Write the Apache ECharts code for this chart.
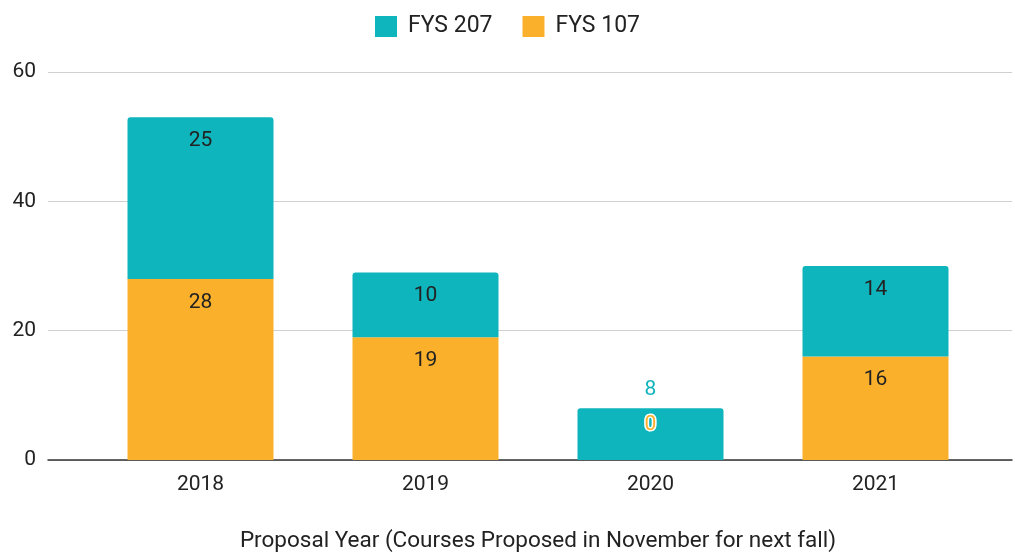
<!DOCTYPE html>
<html>
<head>
<meta charset="utf-8">
<script src="https://cdn.jsdelivr.net/npm/echarts@6/dist/echarts.min.js"></script>
<style>
	html, body { margin: 0; padding: 0; background: #fff; }
	#chart { width: 1015px; height: 552px; }
</style>
</head>
<body>
<div id="chart"></div>
<script>
//Chart data
let years = ['2018', '2019', '2020', '2021'];
let fys107 = [28, 19, 0, 16];
let fys207 = [25, 10, 8, 14];
let yTicks = [0, 20, 40, 60];

let teal = '#0FB5BC';
let orange = '#FBB02C';
let font = 'Roboto';
let ink = '#222';

let chart = echarts.init(document.getElementById('chart'));

//2020 has odd labels: 8 sits above the bar, 0 floats inside in orange
let data107 = fys107.map(function (v, i) {
	if (v === 0) {
		return {
			value: v,
			label: {
				position: 'inside', offset: [0, -35], color: orange,
				textBorderColor: '#fff', textBorderWidth: 3
			}
		};
	}
	return v;
});
let data207 = fys207.map(function (v, i) {
	if (fys107[i] === 0) {
		return { value: v, label: { position: 'top', distance: 8, color: teal } };
	}
	return v;
});

let option = {
	animation: false,
	textStyle: { fontFamily: font },
	legend: {
		top: 10,
		left: 'center',
		itemWidth: 22,
		itemHeight: 21,
		itemGap: 30,
		icon: 'rect',
		textStyle: { fontSize: 23, color: ink, fontFamily: font, padding: [0, 0, 0, 6] },
		data: ['FYS 207', 'FYS 107']
	},
	grid: [
		{ left: 48, right: 3, top: 72, bottom: 92, outerBoundsMode: 'none' },
		{ left: 88, right: 27, top: 72, bottom: 92, outerBoundsMode: 'none' }
	],
	xAxis: [
		{
			gridIndex: 0, type: 'value', min: 0, max: 1,
			axisLine: { show: true, lineStyle: { color: '#333', width: 1.5 } },
			axisTick: { show: false }, axisLabel: { show: false }, splitLine: { show: false }
		},
		{
			gridIndex: 1, type: 'category', data: years,
			axisLine: { show: false }, axisTick: { show: false },
			axisLabel: { margin: 14, fontSize: 21, color: ink, fontFamily: font },
			name: 'Proposal Year (Courses Proposed in November for next fall)',
			nameLocation: 'middle', nameGap: 70,
			nameTextStyle: { fontSize: 22.5, color: ink, fontFamily: font }
		}
	],
	yAxis: [
		{
			gridIndex: 0, type: 'value', min: yTicks[0], max: yTicks[yTicks.length - 1], interval: 20,
			axisLine: { show: false }, axisTick: { show: false },
			axisLabel: { margin: 12, fontSize: 21, color: ink, fontFamily: font },
			splitLine: { lineStyle: { color: '#d0d0d0', width: 1 } }
		},
		{
			gridIndex: 1, type: 'value', min: 0, max: 60, interval: 20,
			axisLine: { show: false }, axisTick: { show: false },
			axisLabel: { show: false }, splitLine: { show: false }
		}
	],
	series: [
		{
			name: 'FYS 107', type: 'bar', stack: 'total',
			xAxisIndex: 1, yAxisIndex: 1,
			barWidth: 146,
			itemStyle: { color: orange },
			label: {
				show: true, position: 'insideTop', distance: 13,
				fontSize: 21, color: ink, fontFamily: font
			},
			data: data107
		},
		{
			name: 'FYS 207', type: 'bar', stack: 'total',
			xAxisIndex: 1, yAxisIndex: 1,
			barWidth: 146,
			itemStyle: { color: teal, borderRadius: [3, 3, 0, 0] },
			label: {
				show: true, position: 'insideTop', distance: 13,
				fontSize: 21, color: ink, fontFamily: font
			},
			data: data207
		}
	]
};

chart.setOption(option);
</script>
</body>
</html>
